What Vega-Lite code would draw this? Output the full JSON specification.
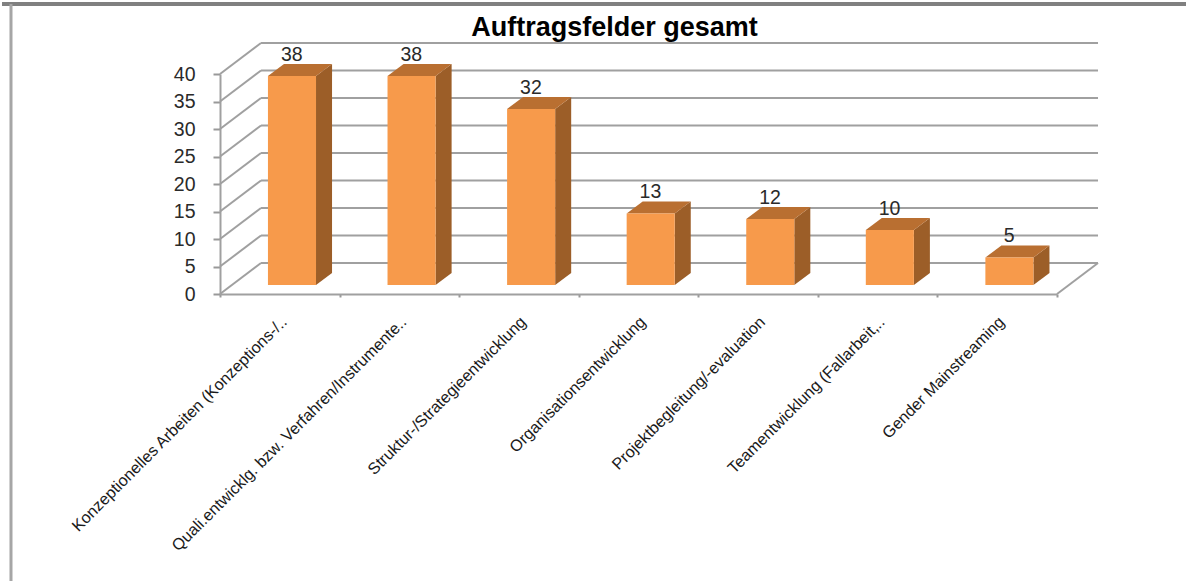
{
"$schema":"https://vega.github.io/schema/vega-lite/v6.json",
"width":837,"height":220,
"autosize":"none",
"padding":{"left":220,"top":74,"right":129,"bottom":287},
"background":"white",
"view":{"stroke":null},
"title":{"text":"Auftragsfelder gesamt","font":"Liberation Sans","fontSize":27,"fontWeight":"bold","color":"#000000","dx":-24,"offset":-40,"anchor":"middle"},
"datasets":{
"balken":[
{"kategorie":"Konzeptionelles Arbeiten (Konzeptions-/..","anzahl":38},
{"kategorie":"Quali.entwicklg. bzw. Verfahren/Instrumente..","anzahl":38},
{"kategorie":"Struktur-/Strategieentwicklung","anzahl":32},
{"kategorie":"Organisationsentwicklung","anzahl":13},
{"kategorie":"Projektbegleitung/-evaluation","anzahl":12},
{"kategorie":"Teamentwicklung (Fallarbeit,..","anzahl":10},
{"kategorie":"Gender Mainstreaming","anzahl":5}
],
"raster":[{"wert":0},{"wert":5},{"wert":10},{"wert":15},{"wert":20},{"wert":25},{"wert":30},{"wert":35},{"wert":40}]
},
"resolve":{"scale":{"x":"independent"},"axis":{"x":"independent","y":"independent"}},
"layer":[
{"data":{"name":"balken"},
 "mark":{"type":"bar","opacity":0},
 "encoding":{
  "x":{"field":"kategorie","type":"nominal","sort":null,"scale":{"paddingInner":0,"paddingOuter":0},
   "axis":{"title":null,"orient":"bottom","labelAngle":-45,"labelAlign":"right","labelBaseline":"middle","labelFont":"Liberation Sans","labelFontSize":16.2,"labelColor":"#1a1a1a","labelPadding":22,"labelOffset":4,"labelLimit":0,"labelOverlap":false,"tickBand":"extent","tickSize":3,"tickColor":"#999999","tickWidth":2,"domainColor":"#a0a0a0","domainWidth":2}},
  "y":{"field":"anzahl","type":"quantitative","scale":{"domain":[0,40],"nice":false},
   "axis":{"title":null,"values":[0,5,10,15,20,25,30,35,40],"labelOverlap":false,"grid":false,"labelFont":"Liberation Sans","labelFontSize":19.5,"labelColor":"#2a2a2a","labelPadding":18,"tickSize":7,"tickColor":"#999999","tickWidth":2,"domainColor":"#a0a0a0","domainWidth":2}}
 }},
{"data":{"name":"raster"},
 "mark":{"type":"rule","color":"#a0a0a0","strokeWidth":2},
 "encoding":{
  "x":{"datum":0,"type":"quantitative","scale":{"domain":[0,7],"nice":false,"zero":false},"axis":null},
  "x2":{"datum":0.343},
  "y":{"field":"wert","type":"quantitative","axis":null},
  "y2":{"field":"hinten"}
 },
 "transform":[{"calculate":"datum.wert+5.636","as":"hinten"}]},
{"data":{"name":"raster"},
 "mark":{"type":"rule","color":"#a0a0a0","strokeWidth":2},
 "encoding":{
  "x":{"datum":0.343,"type":"quantitative","scale":{"domain":[0,7],"nice":false,"zero":false},"axis":null},
  "x2":{"datum":7.343},
  "y":{"field":"hinten","type":"quantitative","axis":null}
 },
 "transform":[{"calculate":"datum.wert+5.636","as":"hinten"}]},
{"mark":{"type":"rule","color":"#a0a0a0","strokeWidth":2},
 "data":{"values":[{"a":1}]},
 "encoding":{
  "x":{"datum":7,"type":"quantitative","scale":{"domain":[0,7],"nice":false,"zero":false},"axis":null},"x2":{"datum":7.343},
  "y":{"datum":0,"type":"quantitative","axis":null},"y2":{"datum":5.636}
 }},
{"data":{"name":"balken"},
 "transform":[
  {"window":[{"op":"row_number","as":"nr"}]},
  {"calculate":"datum.nr-1+0.803","as":"rechts"},
  {"calculate":"datum.anzahl+1.64","as":"oben"},
  {"calculate":"[0,1]","as":"t"},{"flatten":["t"]},
  {"calculate":"datum.rechts+datum.t*0.134","as":"sx"},
  {"calculate":"1.64+datum.t*2.18","as":"sy"},
  {"calculate":"datum.oben+datum.t*2.18","as":"sy2"}
 ],
 "mark":{"type":"area","fill":"#9C5E28","orient":"vertical"},
 "encoding":{
  "x":{"field":"sx","type":"quantitative","scale":{"domain":[0,7],"nice":false,"zero":false},"axis":null},
  "y":{"field":"sy","type":"quantitative","axis":null,"stack":null},
  "y2":{"field":"sy2"},
  "detail":{"field":"kategorie","type":"nominal"}
 }},
{"data":{"name":"balken"},
 "transform":[
  {"window":[{"op":"row_number","as":"nr"}]},
  {"calculate":"datum.anzahl+1.64","as":"oben"},
  {"calculate":"[0,1]","as":"t"},{"flatten":["t"]},
  {"calculate":"datum.nr-1+0.401+datum.t*0.134","as":"dx0"},
  {"calculate":"datum.nr-1+0.803+datum.t*0.134","as":"dx1"},
  {"calculate":"datum.oben+datum.t*2.18","as":"hoehe"}
 ],
 "mark":{"type":"area","orient":"horizontal","fill":"#B96F31"},
 "encoding":{
  "y":{"field":"hoehe","type":"quantitative","axis":null},
  "x":{"field":"dx0","type":"quantitative","scale":{"domain":[0,7],"nice":false,"zero":false},"axis":null,"stack":null},
  "x2":{"field":"dx1"},
  "detail":{"field":"kategorie","type":"nominal"}
 }},
{"data":{"name":"balken"},
 "transform":[
  {"window":[{"op":"row_number","as":"nr"}]},
  {"calculate":"datum.nr-1+0.401","as":"links"},
  {"calculate":"datum.nr-1+0.803","as":"rechts"},
  {"calculate":"1.64","as":"basis"},
  {"calculate":"datum.anzahl+1.64","as":"oben"}
 ],
 "mark":{"type":"rect","color":"#F79A4B"},
 "encoding":{
  "x":{"field":"links","type":"quantitative","scale":{"domain":[0,7],"nice":false,"zero":false},"axis":null},
  "x2":{"field":"rechts"},
  "y":{"field":"basis","type":"quantitative","axis":null},
  "y2":{"field":"oben"}
 }},
{"data":{"name":"balken"},
 "transform":[
  {"window":[{"op":"row_number","as":"nr"}]},
  {"calculate":"datum.nr-1+0.6","as":"mitte"},
  {"calculate":"datum.anzahl+1.64","as":"oben"}
 ],
 "mark":{"type":"text","font":"Liberation Sans","fontSize":19.5,"color":"#2a2a2a","dy":-15,"baseline":"alphabetic","align":"center"},
 "encoding":{
  "x":{"field":"mitte","type":"quantitative","scale":{"domain":[0,7],"nice":false,"zero":false},"axis":null},
  "y":{"field":"oben","type":"quantitative","axis":null},
  "text":{"field":"anzahl","type":"quantitative"}
 }},
{"data":{"values":[{"a":1}]},
 "mark":{"type":"rule","color":"#808080","strokeWidth":4},
 "encoding":{
  "x":{"datum":-1.823,"type":"quantitative","scale":{"domain":[0,7],"nice":false,"zero":false},"axis":null},"x2":{"datum":8.1},
  "y":{"datum":52.73,"type":"quantitative","axis":null}
 }},
{"data":{"values":[{"a":1}]},
 "mark":{"type":"rule","color":"#a6a6a6","strokeWidth":3},
 "encoding":{
  "x":{"datum":-1.748,"type":"quantitative","scale":{"domain":[0,7],"nice":false,"zero":false},"axis":null},
  "y":{"datum":52.73,"type":"quantitative","axis":null},"y2":{"datum":-52.5}
 }}
]
}
